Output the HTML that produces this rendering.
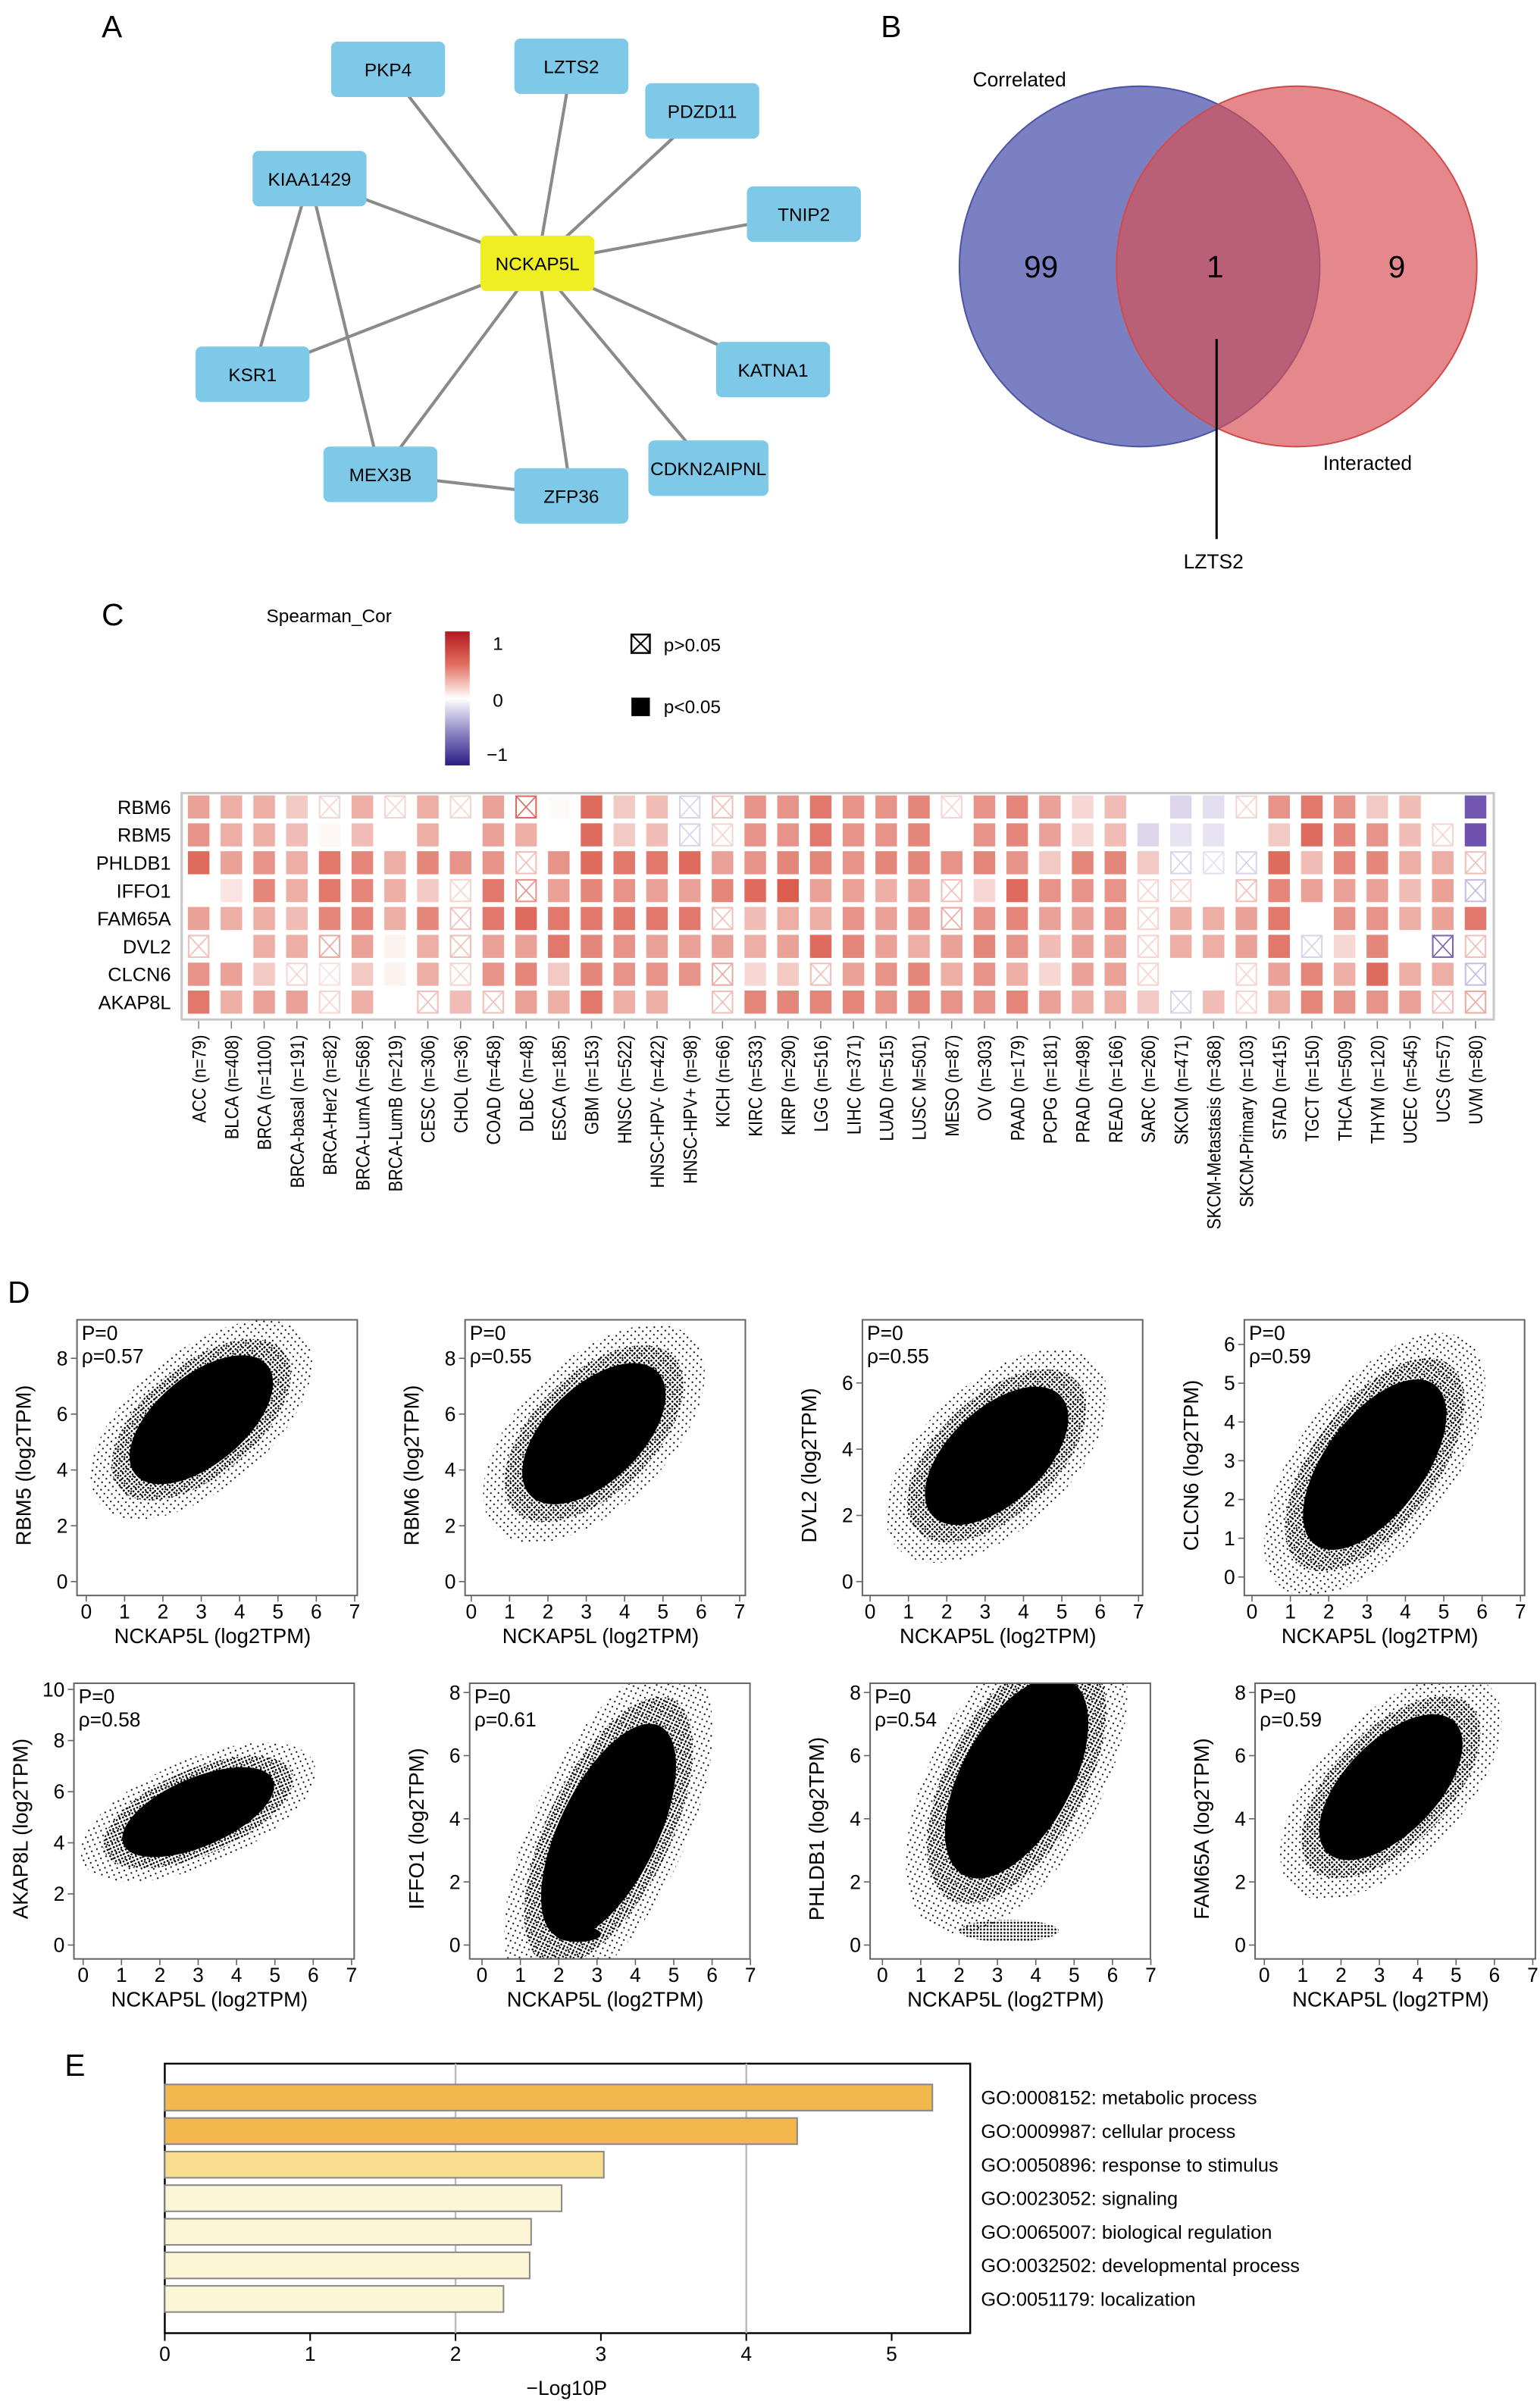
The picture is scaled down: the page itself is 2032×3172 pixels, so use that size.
<!DOCTYPE html>
<html><head><meta charset="utf-8"><style>
html,body{margin:0;padding:0;background:#fff;}
svg{display:block;font-family:"Liberation Sans",Arial,sans-serif;}
</style></head><body>
<svg id="fig" width="2032" height="3172" viewBox="0 0 1000 1561" xmlns="http://www.w3.org/2000/svg">
<defs>
<pattern id="dots" width="2.2" height="2.2" patternUnits="userSpaceOnUse"><circle cx="1.1" cy="1.1" r="0.65" fill="#000"/></pattern>
<pattern id="dots2" width="3.6" height="3.3" patternUnits="userSpaceOnUse"><circle cx="1.2" cy="1.2" r="0.55" fill="#000"/></pattern>
</defs>
<g font-size="20" fill="#000">
<text x="66" y="24">A</text>
<text x="572" y="24">B</text>
<text x="66" y="406">C</text>
<text x="5" y="846">D</text>
<text x="42" y="1348">E</text>
</g>
<g id="network"></g>
<g id="venn">
<circle cx="740" cy="173" r="117" fill="#7b80c2" stroke="#4d54a8" stroke-width="1"/>
<circle cx="842" cy="173" r="117" fill="#d84f55" fill-opacity="0.68" stroke="#d04c4c" stroke-width="1"/>
<text x="676" y="180" font-size="20" text-anchor="middle">99</text>
<text x="789" y="180" font-size="20" text-anchor="middle">1</text>
<text x="907" y="180" font-size="20" text-anchor="middle">9</text>
<line x1="790" y1="220" x2="790" y2="350" stroke="#000" stroke-width="1.5"/>
<text x="788" y="369" font-size="13" text-anchor="middle">LZTS2</text>
<text x="662" y="56" font-size="13" text-anchor="middle">Correlated</text>
<text x="888" y="305" font-size="13" text-anchor="middle">Interacted</text>
</g>
<g id="heatLegend">
<text x="173" y="404" font-size="12">Spearman_Cor</text>
<defs><linearGradient id="cbar" x1="0" y1="0" x2="0" y2="1">
<stop offset="0" stop-color="#b2181f"/><stop offset="0.25" stop-color="#e2705f"/><stop offset="0.5" stop-color="#ffffff"/><stop offset="0.75" stop-color="#8f87c4"/><stop offset="1" stop-color="#2c1c87"/></linearGradient></defs>
<rect x="289" y="410" width="16" height="87" fill="url(#cbar)"/>
<text x="320" y="422" font-size="12">1</text>
<text x="320" y="459" font-size="12">0</text>
<text x="316" y="494" font-size="12">−1</text>
<rect x="410" y="412" width="12" height="12" fill="#fff" stroke="#000" stroke-width="1.2"/>
<line x1="410" y1="412" x2="422" y2="424" stroke="#000"/><line x1="422" y1="412" x2="410" y2="424" stroke="#000"/>
<text x="431" y="423" font-size="12">p&gt;0.05</text>
<rect x="410" y="453" width="12" height="12" fill="#000"/>
<text x="431" y="463" font-size="12">p&lt;0.05</text>
</g>
<g id="heatmap"></g>
<g id="scatters"></g>
<g id="bars"></g>
</svg>
<script>
const NS="http://www.w3.org/2000/svg";
function mk(tag,attrs,parent){const e=document.createElementNS(NS,tag);for(const k in attrs)e.setAttribute(k,attrs[k]);parent.appendChild(e);return e;}

/* ---------- Panel A network ---------- */
const nodeNames=["PKP4","LZTS2","PDZD11","KIAA1429","TNIP2","NCKAP5L","KSR1","KATNA1","MEX3B","CDKN2AIPNL","ZFP36"];
const nodeX=[252,371,456,201,522,349,164,502,247,460,371];
const nodeY=[45,43,72,116,139,171,243,240,308,304,322];
const edgeFrom=[5,5,5,5,5,5,5,5,5,5,3,3,8];
const edgeTo=[0,1,2,3,4,6,7,8,9,10,6,8,10];
const net=document.getElementById('network');
for(let i=0;i<edgeFrom.length;i++){
  const l=mk('line',{x1:nodeX[edgeFrom[i]],y1:nodeY[edgeFrom[i]],x2:nodeX[edgeTo[i]],y2:nodeY[edgeTo[i]],stroke:'#8a8a8a','stroke-width':2},net);
  
  
}
for(let i=0;i<nodeNames.length;i++){
  const w=nodeNames[i].length>8?78:74;
  const r=mk('rect',{x:nodeX[i]-w/2,y:nodeY[i]-18,width:w,height:36,rx:4,fill:i==5?'#eeee22':'#7ec8e8'},net);
  
  
  const t=mk('text',{x:nodeX[i],y:nodeY[i]+4.5,'font-size':12,'text-anchor':'middle'},net);
  t.textContent=nodeNames[i];
  
  
}

/* ---------- Panel C heatmap ---------- */
const cancers=["ACC (n=79)","BLCA (n=408)","BRCA (n=1100)","BRCA-basal (n=191)","BRCA-Her2 (n=82)","BRCA-LumA (n=568)","BRCA-LumB (n=219)","CESC (n=306)","CHOL (n=36)","COAD (n=458)","DLBC (n=48)","ESCA (n=185)","GBM (n=153)","HNSC (n=522)","HNSC-HPV- (n=422)","HNSC-HPV+ (n=98)","KICH (n=66)","KIRC (n=533)","KIRP (n=290)","LGG (n=516)","LIHC (n=371)","LUAD (n=515)","LUSC M=501)","MESO (n=87)","OV (n=303)","PAAD (n=179)","PCPG (n=181)","PRAD (n=498)","READ (n=166)","SARC (n=260)","SKCM (n=471)","SKCM-Metastasis (n=368)","SKCM-Primary (n=103)","STAD (n=415)","TGCT (n=150)","THCA (n=509)","THYM (n=120)","UCEC (n=545)","UCS (n=57)","UVM (n=80)"];
const genes=["RBM6","RBM5","PHLDB1","IFFO1","FAM65A","DVL2","CLCN6","AKAP8L"];
const corrRBM6=[0.35,0.3,0.3,0.2,0.05,0.3,0.05,0.3,0.05,0.35,0.3,0.02,0.55,0.2,0.25,-0.05,0.1,0.4,0.4,0.5,0.4,0.4,0.45,0.05,0.4,0.45,0.35,0.15,0.25,0,-0.15,-0.12,0.05,0.4,0.5,0.4,0.2,0.25,0,-0.6];
const corrRBM5=[0.4,0.3,0.3,0.25,0.03,0.25,0,0.3,0,0.35,0.3,0,0.55,0.2,0.25,-0.05,0.05,0.4,0.4,0.5,0.4,0.4,0.45,0,0.4,0.45,0.35,0.15,0.25,-0.15,-0.1,-0.1,0,0.2,0.55,0.45,0.4,0.25,0.05,-0.7];
const corrPHLDB1=[0.55,0.35,0.4,0.3,0.5,0.45,0.3,0.45,0.4,0.4,0.1,0.4,0.55,0.5,0.5,0.55,0.35,0.4,0.45,0.45,0.4,0.45,0.45,0.4,0.45,0.4,0.2,0.45,0.45,0.2,-0.05,-0.02,-0.05,0.55,0.25,0.45,0.45,0.3,0.3,0.1];
const corrIFFO1=[0,0.1,0.45,0.3,0.5,0.45,0.3,0.2,0.05,0.5,0.2,0.35,0.45,0.4,0.35,0.35,0.45,0.55,0.6,0.35,0.35,0.3,0.35,0.1,0.15,0.55,0.4,0.4,0.4,0.05,0.05,0,0.1,0.45,0.35,0.35,0.35,0.25,0.35,-0.1];
const corrFAM65A=[0.35,0.3,0.3,0.25,0.45,0.45,0.3,0.45,0.1,0.5,0.55,0.5,0.5,0.5,0.5,0.5,0.1,0.25,0.3,0.3,0.4,0.35,0.4,0.15,0.4,0.45,0.35,0.35,0.4,0.05,0.3,0.3,0.35,0.5,0,0.4,0.4,0.3,0.35,0.5];
const corrDVL2=[0.1,0,0.3,0.3,0.15,0.35,0.05,0.3,0.1,0.35,0.35,0.5,0.45,0.4,0.35,0.35,0.35,0.3,0.35,0.55,0.45,0.35,0.3,0.35,0.45,0.4,0.25,0.35,0.35,0.05,0.3,0.3,0.35,0.5,-0.05,0.15,0.45,0,-0.3,0.1];
const corrCLCN6=[0.4,0.35,0.2,0.05,0.02,0.2,0.05,0.3,0.05,0.4,0.45,0.2,0.45,0.4,0.4,0.4,0.15,0.15,0.2,0.1,0.35,0.4,0.45,0.3,0.4,0.3,0.15,0.35,0.35,0.05,0,0,0.05,0.35,0.45,0.3,0.55,0.3,0.3,-0.1];
const corrAKAP8L=[0.5,0.3,0.35,0.35,0.05,0.3,0,0.1,0.25,0.1,0.35,0.3,0.5,0.3,0.3,0,0.1,0.45,0.45,0.45,0.45,0.4,0.45,0.4,0.4,0.45,0.35,0.3,0.3,0.2,-0.05,0.25,0.05,0.3,0.45,0.4,0.4,0.35,0.1,0.15];
const nsRBM6=[4,6,8,10,15,16,23,32];
const nsRBM5=[15,16,38];
const nsPHLDB1=[10,30,31,32,39];
const nsIFFO1=[8,10,23,29,30,32,39];
const nsFAM65A=[8,16,23,29];
const nsDVL2=[0,4,8,29,34,38,39];
const nsCLCN6=[3,4,8,16,19,29,32,39];
const nsAKAP8L=[4,7,9,16,30,32,38,39];
const corr=[corrRBM6,corrRBM5,corrPHLDB1,corrIFFO1,corrFAM65A,corrDVL2,corrCLCN6,corrAKAP8L];
const nonsig=[nsRBM6,nsRBM5,nsPHLDB1,nsIFFO1,nsFAM65A,nsDVL2,nsCLCN6,nsAKAP8L];

const HM={x0:118,x1:970,y0:515,y1:662,c0:129,dc:21.26,r0:524,dr:18.1};
function hx(i){return HM.c0+i*HM.dc;}
function hy(j){return HM.r0+j*HM.dr;}
function colorOf(v){
  let t=Math.max(-1,Math.min(1,v/0.62));
  if(t>=0){return 'rgb('+Math.round(255-t*(255-218))+','+Math.round(255-t*(255-88))+','+Math.round(255-t*(255-72))+')';}
  t=-t;return 'rgb('+Math.round(255-t*(255-110))+','+Math.round(255-t*(255-80))+','+Math.round(255-t*(255-175))+')';
}
const hm=document.getElementById('heatmap');
mk('rect',{x:HM.x0,y:HM.y0,width:HM.x1-HM.x0,height:HM.y1-HM.y0,fill:'#fff',stroke:'#c8c8c8','stroke-width':1.5},hm);
for(let j=0;j<genes.length;j++){
  const t=mk('text',{x:HM.x0-7,y:hy(j)+4.5,'font-size':12.5,'text-anchor':'end'},hm);
  t.textContent=genes[j];
  
  
  for(let i=0;i<cancers.length;i++){
    const v=corr[j][i];const c=colorOf(v);const x=hx(i)-7,y=hy(j)-7.5;
    if(nonsig[j].indexOf(i)>=0){
      const g=mk('g',{},hm);
      
      
      const sc2=colorOf(v*1.6+(v>=0?0.08:-0.08));
      mk('rect',{x:x+0.5,y:y+0.5,width:13,height:14,fill:'#fff',stroke:sc2,'stroke-width':1},g);
      mk('path',{d:'M'+(x+1)+' '+(y+1)+'L'+(x+13)+' '+(y+14)+'M'+(x+13)+' '+(y+1)+'L'+(x+1)+' '+(y+14),stroke:sc2,'stroke-width':0.8,fill:'none'},g);
    } else {
      const r=mk('rect',{x:x,y:y,width:14,height:15,fill:c},hm);
      
      
    }
  }
}
for(let i=0;i<cancers.length;i++){
  mk('line',{x1:hx(i),y1:HM.y1+1,x2:hx(i),y2:HM.y1+6,stroke:'#888','stroke-width':0.8},hm);
  const t=mk('text',{x:0,y:0,'font-size':12.5,'text-anchor':'end',transform:'translate('+(hx(i)+4.5)+','+(HM.y1+10)+') rotate(-90) scale(0.86,1)'},hm);
  t.textContent=cancers[i];
  
  
}

/* ---------- Panel D scatter plots ---------- */
const scGenes=["RBM5","RBM6","DVL2","CLCN6","AKAP8L","IFFO1","PHLDB1","FAM65A"];
const scRho=["0.57","0.55","0.55","0.59","0.58","0.61","0.54","0.59"];
const scYMax=[8,8,6,6,10,8,8,8];
const scYStep=[2,2,2,1,2,2,2,2];
const cloudCX=[3.0,3.2,3.3,3.2,3.0,3.3,3.5,3.3];
const cloudCY=[5.8,5.3,3.8,2.9,5.2,3.6,5.3,5.0];
const cloudSX=[0.85,0.85,0.85,0.85,0.9,0.8,0.85,0.85];
const cloudSY=[1.05,1.15,0.95,1.0,0.8,1.55,1.45,1.05];
const cloudR=[0.57,0.55,0.55,0.59,0.58,0.61,0.54,0.59];
const boxL=[50,302,560,808,48,305,565,815];
const boxTop=[857,857,857,857,1093,1093,1093,1093];
const x0px=[56,306,565,813,54,313,573,821];
const y0px=[1027,1027,1027,1024,1263,1263,1263,1263];
const yTopPx=[882,882,898,873,1097,1099,1099,1099];
const sc=document.getElementById('scatters');
for(let p=0;p<8;p++){
  const g=mk('g',{},sc);
  
  
  const W=182,H=179,L=boxL[p],T=boxTop[p];
  const ux=24.9;const uy=(y0px[p]-yTopPx[p])/scYMax[p];
  const X=v=>x0px[p]+v*ux, Y=v=>y0px[p]-v*uy;
  const cid='clip'+p;
  const cp=mk('clipPath',{id:cid},g);mk('rect',{x:L,y:T,width:W,height:H},cp);
  const cg=mk('g',{'clip-path':'url(#'+cid+')'},g);
  const sx=cloudSX[p]*ux, sy=cloudSY[p]*uy, r=cloudR[p];
  const a=sx*sx,b=r*sx*sy,d=sy*sy;
  const tr=(a+d)/2,df=Math.sqrt(((a-d)/2)**2+b*b);
  const l1=tr+df,l2=tr-df;const ang=Math.atan2(l1-a,b)*180/Math.PI;
  const cx=X(cloudCX[p]),cy=Y(cloudCY[p]);
  const el=(k,fill)=>mk('ellipse',{cx:cx,cy:cy,rx:k*Math.sqrt(l1),ry:k*Math.sqrt(l2),fill:fill,transform:'rotate('+(-ang)+' '+cx+' '+cy+')'},cg);
  const e3=el(3.4,'url(#dots2)');
  
  
  const e2=el(2.75,'url(#dots)');
  
  
  const e1=el(2.2,'#000');
  
  
  if(scGenes[p]==="PHLDB1"){
    const b2=mk('ellipse',{cx:X(3.3),cy:Y(0.45),rx:1.3*ux,ry:0.35*uy,fill:'url(#dots)'},cg);
    
    
  }
  if(scGenes[p]==="IFFO1"){
    mk('ellipse',{cx:X(2.5),cy:Y(0.35),rx:0.6*ux,ry:0.25*uy,fill:'#000'},cg);
  }
  mk('rect',{x:L,y:T,width:W,height:H,fill:'none',stroke:'#666','stroke-width':1},g);
  for(let k=0;k<=7;k++){
    mk('line',{x1:X(k),y1:T+H,x2:X(k),y2:T+H+4,stroke:'#666','stroke-width':0.8},g);
    const t=mk('text',{x:X(k),y:T+H+15,'font-size':13,'text-anchor':'middle'},g);t.textContent=k;
  }
  for(let k=0;k<=scYMax[p];k+=scYStep[p]){
    mk('line',{x1:L-4,y1:Y(k),x2:L,y2:Y(k),stroke:'#666','stroke-width':0.8},g);
    const t=mk('text',{x:L-6,y:Y(k)+4.5,'font-size':13,'text-anchor':'end'},g);t.textContent=k;
  }
  const xl=mk('text',{x:L+W/2-3,y:T+H+31,'font-size':13.5,'text-anchor':'middle'},g);
  xl.textContent='NCKAP5L (log2TPM)';
  
  
  const yl=mk('text',{x:0,y:0,'font-size':13.5,'text-anchor':'middle',transform:'translate('+(L-30)+','+(T+H/2+5)+') rotate(-90)'},g);
  yl.textContent=scGenes[p]+' (log2TPM)';
  
  
  const s1=mk('text',{x:L+3,y:T+13,'font-size':13},g);s1.textContent='P=0';
  const s2=mk('text',{x:L+3,y:T+28,'font-size':13},g);s2.textContent='\u03C1='+scRho[p];
}

/* ---------- Panel E bar chart ---------- */
const goTerms=["GO:0008152: metabolic process","GO:0009987: cellular process","GO:0050896: response to stimulus","GO:0023052: signaling","GO:0065007: biological regulation","GO:0032502: developmental process","GO:0051179: localization"];
const goVals=[5.28,4.35,3.02,2.73,2.52,2.51,2.33];
const xTicks=[0,1,2,3,4,5];
const BX={l:107,r:630,t:1340,b:1515,y0:1362,dy:21.8,ux:94.4};
const bx=v=>BX.l+v*BX.ux;
const bc=document.getElementById('bars');
mk('rect',{x:BX.l,y:BX.t,width:BX.r-BX.l,height:BX.b-BX.t,fill:'#fff',stroke:'#000','stroke-width':1.2},bc);
[2,4].forEach(v=>mk('line',{x1:bx(v),y1:BX.t,x2:bx(v),y2:BX.b,stroke:'#bbb','stroke-width':1.2},bc));
function barColor(v){if(v>4)return '#f2b84e';if(v>2.9)return '#f8dd8e';return '#fcf6d6';}
for(let i=0;i<goVals.length;i++){
  const y=BX.y0+i*BX.dy;
  const r=mk('rect',{x:BX.l,y:y-8.5,width:bx(goVals[i])-BX.l,height:17,fill:barColor(goVals[i]),stroke:'#888','stroke-width':1},bc);
  
  
  const t=mk('text',{x:BX.r+7,y:y+4.5,'font-size':12.5},bc);
  t.textContent=goTerms[i];
  
  
}
xTicks.forEach(v=>{
  mk('line',{x1:bx(v),y1:BX.b,x2:bx(v),y2:BX.b+5,stroke:'#000','stroke-width':1},bc);
  const t=mk('text',{x:bx(v),y:BX.b+18,'font-size':13,'text-anchor':'middle'},bc);t.textContent=v;
});
const xt=mk('text',{x:368,y:1555,'font-size':13,'text-anchor':'middle'},bc);
xt.textContent='\u2212Log10P';


</script>
</body></html>
